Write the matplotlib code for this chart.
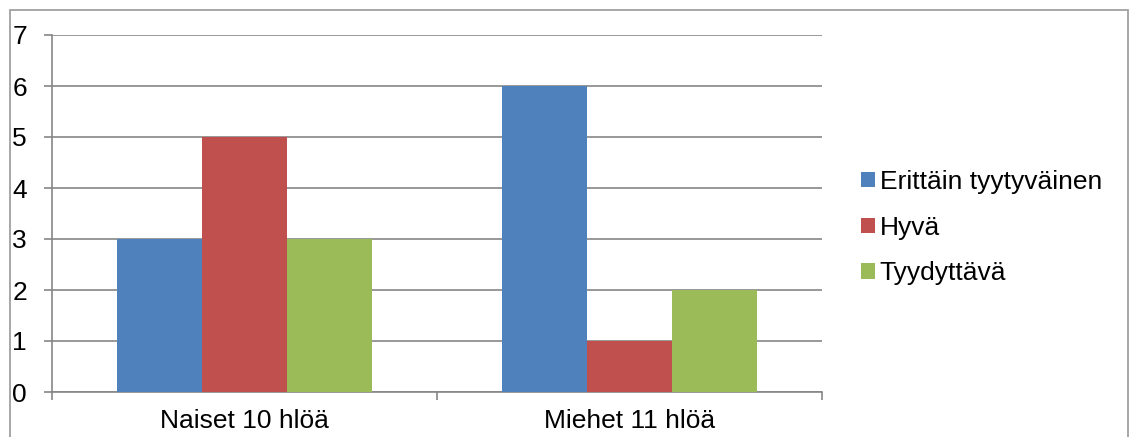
import matplotlib
matplotlib.use("Agg")
import matplotlib.pyplot as plt
from matplotlib.patches import Rectangle
import numpy as np

categories = ["Naiset 10 hlöä", "Miehet 11 hlöä"]
series_names = ["Erittäin tyytyväinen", "Hyvä", "Tyydyttävä"]
erittain = [3, 6]
hyva = [5, 1]
tyydyttava = [3, 2]
values = [erittain, hyva, tyydyttava]
colors = ["#4F81BD", "#C0504D", "#9BBB59"]
yticks = [0, 1, 2, 3, 4, 5, 6, 7]

plt.rcParams['font.family'] = ['Liberation Sans', 'DejaVu Sans']

W, H = 1130, 437
FS = 19
fig = plt.figure(figsize=(W / 100, H / 100), dpi=100)
ax = fig.add_axes([52 / W, 1 - 392 / H, (822 - 52) / W, (392 - 35) / H])

grid_c = "#868686"
bw = 85 / 385
centers = np.arange(len(categories)) + 0.5
for i, (vals, col, name) in enumerate(zip(values, colors, series_names)):
    ax.bar(centers + (i - 1) * bw, vals, width=bw, color=col, label=name, zorder=3)

ax.set_xlim(0, 2)
ax.set_ylim(0, 7)
ax.set_yticks(yticks)
ax.set_yticklabels([str(v) for v in yticks], fontsize=FS)
ax.yaxis.grid(True, color=grid_c, linewidth=1.2, zorder=0)
ax.set_xticks([0, 1, 2])
ax.set_xticklabels(["", "", ""])
ax.set_xticks(centers, minor=True)
ax.set_xticklabels(categories, minor=True, fontsize=FS)
ax.tick_params(axis='x', which='minor', length=0, pad=12)
ax.tick_params(axis='x', which='major', length=6, width=1.2, color=grid_c, direction='out')
ax.tick_params(axis='y', length=6, width=1.2, color=grid_c, direction='out', pad=12)
for s in ['top', 'right']:
    ax.spines[s].set_visible(False)
for s in ['left', 'bottom']:
    ax.spines[s].set_color(grid_c)
    ax.spines[s].set_linewidth(1.2)
ax.set_axisbelow(True)

leg = ax.legend(loc='upper left', bbox_to_anchor=(861 / W, 1 - 170 / H), bbox_transform=fig.transFigure,
                frameon=False, fontsize=FS, handlelength=0.53, handleheight=0.53,
                handletextpad=0.18, labelspacing=0.82, borderaxespad=0, borderpad=0)

fig.patches.append(Rectangle((10 / W, -0.1), (1128 - 10) / W, 1 - 10 / H + 0.1,
                             transform=fig.transFigure, fill=False, edgecolor="#a0a0a0",
                             linewidth=1.3, zorder=0))

fig.savefig("out.png", dpi=100)
